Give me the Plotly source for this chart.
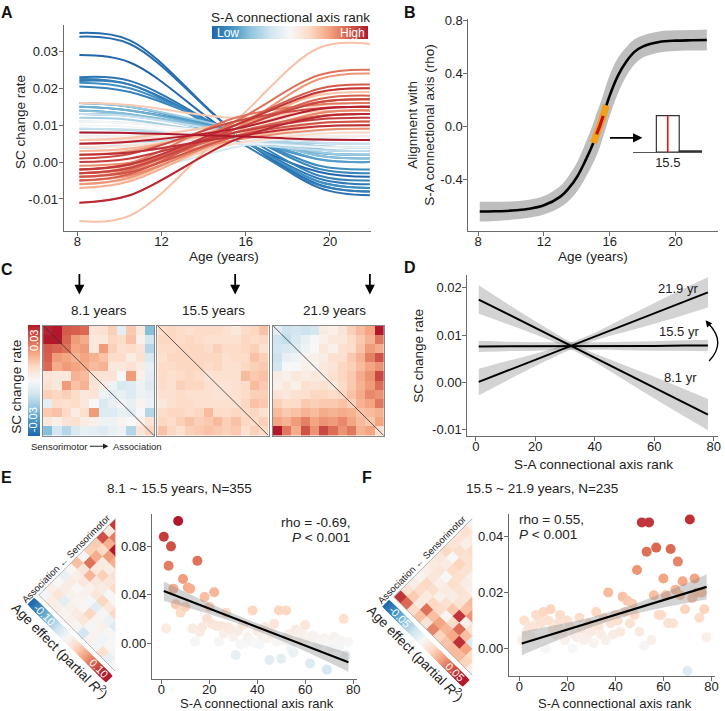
import numpy as np
import plotly.graph_objects as go
from plotly.colors import sample_colorscale

W, H = 725, 711
FONT = "Liberation Sans, Arial, sans-serif"
INK = "#222222"
AXC = "#6b6b6b"

# ---------------- data ----------------
# Panel A: SC change rate of each of 78 connections (ordered by S-A connectional axis rank) at fitted ages
sc_ages = [8.1, 10.5, 15.5, 19.5, 21.9]
sc_age8_1 = [0.029, 0.035, 0.034, 0.023, 0.022, 0.0225, 0.0205, 0.016, 0.015, 0.0215,
             0.014, 0.013, 0.016, 0.005, 0.004, 0.015, 0.004, 0.006, 0.014, 0.013,
             0.004, 0.016, 0.012, 0.009, 0.011, 0.008, 0.006, 0.009, 0.013, 0.007,
             -0.004, 0.007, 0.005, 0.004, 0.006, 0.007, 0.003, 0.005, 0.010, 0.011,
             0.004, 0.007, -0.002, 0.003, 0.000, 0.004, 0.002, 0.006, -0.004, 0.005,
             -0.006, 0.016, 0.006, -0.016, -0.003, 0.003, -0.007, -0.005, -0.011, 0.002,
             -0.006, -0.001, -0.005, -0.003, -0.002, -0.004, -0.003, -0.002, -0.005, -0.004,
             0.001, -0.003, 0.000, -0.002, 0.002, -0.011, 0.005, 0.008]
sc_age10_5 = [0.027, 0.033, 0.032, 0.022, 0.021, 0.021, 0.019, 0.015, 0.014, 0.020,
              0.013, 0.0125, 0.015, 0.0053, 0.0043, 0.014, 0.0044, 0.0061, 0.013, 0.0125,
              0.0042, 0.015, 0.0115, 0.0086, 0.0106, 0.0078, 0.006, 0.0088, 0.0124, 0.007,
              -0.003, 0.007, 0.005, 0.0042, 0.006, 0.007, 0.0032, 0.005, 0.0096, 0.0106,
              0.0042, 0.007, -0.0012, 0.0035, 0.0007, 0.0045, 0.0026, 0.0062, -0.003, 0.0055,
              -0.0046, 0.0155, 0.0066, -0.0145, -0.002, 0.0037, -0.0052, -0.0036, -0.009, 0.003,
              -0.0042, -0.0002, -0.0036, -0.0014, -0.0003, -0.0022, -0.0017, -0.0007, -0.0032, -0.0027,
              0.0022, -0.0016, 0.001, -0.0006, 0.0026, -0.009, 0.0055, 0.0079]
sc_age15_5 = [0.007, 0.008, 0.008, 0.007, 0.007, 0.006, 0.008, 0.008, 0.008, 0.007,
              0.007, 0.008, 0.008, 0.007, 0.006, 0.008, 0.007, 0.007, 0.008, 0.008,
              0.006, 0.009, 0.007, 0.006, 0.008, 0.006, 0.005, 0.007, 0.008, 0.006,
              0.004, 0.006, 0.006, 0.006, 0.007, 0.007, 0.005, 0.006, 0.007, 0.008,
              0.006, 0.008, 0.005, 0.007, 0.006, 0.008, 0.007, 0.008, 0.005, 0.009,
              0.006, 0.012, 0.011, 0.011, 0.006, 0.009, 0.008, 0.007, 0.006, 0.010,
              0.009, 0.006, 0.007, 0.010, 0.012, 0.011, 0.008, 0.009, 0.010, 0.007,
              0.011, 0.009, 0.008, 0.010, 0.007, 0.006, 0.009, 0.007]
sc_age19_5 = [-0.0027, -0.0061, -0.007, -0.0053, -0.0045, -0.0063, -0.0037, -0.0019, -0.001, -0.0054,
              0.0007, 0.0017, 0.0008, 0.0034, 0.0024, 0.0026, 0.0043, 0.0025, 0.0017, 0.0035,
              0.0042, 0.0027, 0.0043, 0.0051, 0.0062, 0.0042, 0.0032, 0.0061, 0.0053, 0.006,
              0.0085, 0.0069, 0.006, 0.0078, 0.007, 0.0097, 0.0041, 0.0078, 0.0115, 0.0098,
              0.0087, 0.0107, 0.0068, 0.0124, 0.0096, 0.0143, 0.0124, 0.0116, 0.0077, 0.0153,
              0.0096, 0.0138, 0.0182, 0.031, 0.0105, 0.0144, 0.0188, 0.0124, 0.0132, 0.0163,
              0.0225, 0.0087, 0.0133, 0.0163, 0.0156, 0.0236, 0.0125, 0.0171, 0.0199, 0.0106,
              0.0146, 0.0162, 0.0116, 0.019, 0.0097, 0.0123, 0.0144, 0.0061]
sc_age21_9 = [-0.004, -0.008, -0.009, -0.007, -0.006, -0.008, -0.005, -0.003, -0.002, -0.007,
              0.000, 0.001, 0.000, 0.003, 0.002, 0.002, 0.004, 0.002, 0.001, 0.003,
              0.004, 0.002, 0.004, 0.005, 0.006, 0.004, 0.003, 0.006, 0.005, 0.006,
              0.009, 0.007, 0.006, 0.008, 0.007, 0.010, 0.004, 0.008, 0.012, 0.010,
              0.009, 0.011, 0.007, 0.013, 0.010, 0.015, 0.013, 0.012, 0.008, 0.016,
              0.010, 0.014, 0.019, 0.032, 0.011, 0.015, 0.020, 0.013, 0.014, 0.017,
              0.024, 0.009, 0.014, 0.017, 0.016, 0.025, 0.013, 0.018, 0.021, 0.011,
              0.015, 0.017, 0.012, 0.020, 0.010, 0.013, 0.015, 0.006]
sa_rank = list(range(1, 79))

# Panel B: alignment with S-A connectional axis across age
b_age = [8.1, 9, 10, 11, 12, 13, 13.5, 14, 14.5, 15.0, 15.2, 15.4, 15.6, 15.8, 16.0,
         16.5, 17, 17.5, 18, 19, 20, 21, 21.9]
b_rho = [-0.645, -0.643, -0.638, -0.626, -0.598, -0.532, -0.47, -0.385, -0.265, -0.125,
         -0.06, 0.005, 0.08, 0.16, 0.235, 0.385, 0.49, 0.565, 0.605, 0.64, 0.65, 0.653, 0.655]
b_ci = [0.075, 0.073, 0.07, 0.068, 0.07, 0.08, 0.095, 0.11, 0.13, 0.15, 0.16, 0.16, 0.16,
        0.16, 0.155, 0.135, 0.11, 0.095, 0.085, 0.08, 0.078, 0.078, 0.08]
b_orange_age = [15.0, 15.2, 15.4, 15.6, 15.8]
b_red_age = [15.2, 15.4, 15.6]
# inset histogram of bootstrap ages at which alignment switches sign
hist_center = [15.5, 16.5]
hist_count = [1000, 30]
hist_median = 15.5

# Panel D: linear fits of SC change rate vs S-A rank at three ages
d_rank = [1, 10, 20, 30, 33, 40, 50, 60, 70, 78]
d_fit_8_1 = [0.0175, 0.01466, 0.0115, 0.00835, 0.0074, 0.00519, 0.00204, -0.00112, -0.00428, -0.0068]
d_ci_8_1 = [0.0030, 0.0022, 0.0014, 0.0008, 0.0007, 0.0009, 0.0016, 0.0023, 0.0029, 0.0033]
d_fit_15_5 = [0.0076, 0.0076, 0.0076, 0.0077, 0.0077, 0.0077, 0.0077, 0.0077, 0.0078, 0.0078]
d_ci_15_5 = [0.0012, 0.0010, 0.0009, 0.0008, 0.0008, 0.0008, 0.0009, 0.0010, 0.0011, 0.0012]
d_fit_21_9 = [0.0001, 0.00231, 0.00476, 0.00722, 0.00796, 0.00967, 0.01213, 0.01458, 0.01704, 0.019]
d_ci_21_9 = [0.0028, 0.0021, 0.0013, 0.0008, 0.0007, 0.0008, 0.0015, 0.0022, 0.0028, 0.0032]

# Panel E: age effect (partial R^2), 8.1 ~ 15.5 years
e_effect = [0.088, 0.012, 0.064, 0.080, 0.045, 0.032, 0.101, 0.025, 0.053, 0.030,
            0.046, 0.045, 0.012, 0.001, 0.068, 0.009, 0.013, 0.038, 0.020, 0.030,
            0.016, 0.042, 0.014, 0.001, 0.014, 0.008, 0.025, 0.013, 0.011, 0.005,
            -0.010, 0.010, -0.001, 0.015, 0.000, 0.005, 0.002, 0.027, 0.000, 0.010,
            -0.001, 0.006, 0.013, 0.004, -0.014, 0.008, 0.016, 0.001, 0.027, -0.013,
            0.002, 0.027, 0.007, -0.004, -0.008, 0.011, 0.009, 0.004, 0.007, 0.015,
            0.004, -0.017, 0.006, 0.005, -0.002, 0.002, 0.001, 0.004, -0.022, 0.000,
            -0.004, 0.005, 0.001, -0.003, 0.002, 0.020, -0.010, 0.001]
e_fit_rank = [1, 10, 20, 30, 40, 50, 60, 70, 78]
e_fit = [0.043, 0.0361, 0.0285, 0.0208, 0.0132, 0.0055, -0.0021, -0.0098, -0.016]
e_ci = [0.008, 0.0062, 0.0045, 0.0035, 0.0032, 0.0036, 0.0048, 0.0064, 0.0078]

# Panel F: age effect (partial R^2), 15.5 ~ 21.9 years
f_effect = [0.003, 0.010, 0.006, 0.008, 0.004, 0.008, 0.012, 0.011, 0.009, 0.013,
            0.000, 0.010, 0.014, 0.007, 0.005, 0.009, 0.012, 0.006, 0.003, 0.010,
            0.008, 0.000, 0.005, 0.004, 0.011, 0.007, 0.003, 0.004, 0.009, 0.006,
            0.002, 0.013, 0.008, 0.005, 0.011, 0.003, 0.020, 0.009, 0.005, 0.012,
            0.010, 0.006, 0.0185, 0.013, 0.017, 0.009, 0.016, 0.012, 0.028, 0.006,
            0.045, 0.001, 0.0345, 0.045, 0.003, 0.019, 0.036, 0.012, 0.012, 0.025,
            0.019, 0.009, 0.0355, 0.009, 0.021, 0.031, 0.019, 0.024, 0.014, -0.008,
            0.046, 0.018, 0.025, 0.020, 0.011, 0.020, 0.014, 0.004]
f_fit_rank = [1, 10, 20, 30, 40, 50, 60, 70, 78]
f_fit = [0.0018, 0.00416, 0.00678, 0.0094, 0.01202, 0.01464, 0.01726, 0.01988, 0.022]
f_ci = [0.0042, 0.0033, 0.0024, 0.0018, 0.0016, 0.0019, 0.0026, 0.0036, 0.0045]

# ---------------- helpers ----------------
RDBU = [[0.0, '#2166ac'], [0.125, '#4393c3'], [0.25, '#92c5de'], [0.375, '#d1e5f0'],
        [0.5, '#f7f7f7'], [0.625, '#fddbc7'], [0.75, '#f4a582'], [0.875, '#d6604d'],
        [1.0, '#b2182b']]


def dx(a, b):
    return [a / W, b / W]


def dy(top, bottom):
    return [1 - bottom / H, 1 - top / H]


def ann(x, y, text, size=13, color=INK, angle=0, xa='center', ya='middle',
        xref='paper', yref='paper'):
    if xref == 'paper':
        x = x / W
    if yref == 'paper':
        y = 1 - y / H
    return dict(x=x, y=y, xref=xref, yref=yref, text=text, showarrow=False,
                font=dict(size=size, color=color, family=FONT), textangle=angle,
                xanchor=xa, yanchor=ya)


def axis(dom, rng, anchor, tickvals=None, ticktext=None, **kw):
    d = dict(domain=dom, range=rng, anchor=anchor, showline=True, linecolor=AXC,
             linewidth=1.1, ticks='outside', ticklen=4, tickcolor=AXC, tickwidth=1.1,
             showgrid=False, zeroline=False, ticklabelstandoff=-2,
             tickfont=dict(size=13, color=INK, family=FONT))
    if tickvals is not None:
        d['tickvals'] = tickvals
        d['ticktext'] = ticktext
    d.update(kw)
    return d


def band(xs, mid, half, xa, ya, color):
    up = [m + h for m, h in zip(mid, half)]
    lo = [m - h for m, h in zip(mid, half)]
    return [go.Scatter(x=xs, y=up, mode='lines', line=dict(width=0, shape='spline'),
                       xaxis=xa, yaxis=ya, hoverinfo='skip'),
            go.Scatter(x=xs, y=lo, mode='lines', line=dict(width=0, shape='spline'),
                       fill='tonexty', fillcolor=color, xaxis=xa, yaxis=ya, hoverinfo='skip')]


# map upper-triangle cells of the 12x12 network matrix to their S-A rank
N = 12
cell_i, cell_j = [], []
for i in range(N):
    for j in range(i, N):
        cell_i.append(i)
        cell_j.append(j)
cell_i = np.array(cell_i)
cell_j = np.array(cell_j)
order = np.argsort((cell_i + 1) ** 2 + (cell_j + 1) ** 2, kind='stable')
cell_rank = np.empty(len(order), dtype=int)
cell_rank[order] = np.arange(len(order))


def to_matrix(vals):
    M = np.full((N, N), np.nan)
    for k in range(len(cell_i)):
        v = vals[cell_rank[k]]
        M[cell_i[k], cell_j[k]] = v
        M[cell_j[k], cell_i[k]] = v
    return M


fig = go.Figure()
anns = []
shapes = []

# ---------------- Panel A ----------------
line_cols = sample_colorscale(RDBU, [(r - 1) / 77 for r in sa_rank])
series = [sc_age8_1, sc_age10_5, sc_age15_5, sc_age19_5, sc_age21_9]
for k in range(78):
    fig.add_trace(go.Scatter(x=sc_ages, y=[s[k] for s in series], mode='lines',
                             line=dict(color=line_cols[k], width=2, shape='spline', smoothing=1.0),
                             xaxis='x', yaxis='y', hoverinfo='skip'))
fig.add_trace(go.Scatter(x=[None], y=[None], mode='markers',
                         marker=dict(color=[1], coloraxis='coloraxis'), xaxis='x', yaxis='y'))

# ---------------- Panel B ----------------
for t in band(b_age, b_rho, b_ci, 'x2', 'y2', '#bebebe'):
    fig.add_trace(t)
fig.add_trace(go.Scatter(x=b_age, y=b_rho, mode='lines', line=dict(color='black', width=2.6, shape='spline'),
                         xaxis='x2', yaxis='y2'))
o_idx = [b_age.index(a) for a in b_orange_age]
r_idx = [b_age.index(a) for a in b_red_age]
fig.add_trace(go.Scatter(x=b_orange_age, y=[b_rho[i] for i in o_idx], mode='lines',
                         line=dict(color='#f5a01a', width=7, shape='spline'), xaxis='x2', yaxis='y2'))
fig.add_trace(go.Scatter(x=b_red_age, y=[b_rho[i] for i in r_idx], mode='lines',
                         line=dict(color='#c1121f', width=3.2, shape='spline'), xaxis='x2', yaxis='y2'))
# inset histogram
fig.add_trace(go.Bar(x=hist_center, y=hist_count, width=1.0, marker=dict(color='white', line=dict(color='#333', width=1.2)),
                     xaxis='x3', yaxis='y3'))
fig.add_trace(go.Scatter(x=[hist_median, hist_median], y=[0, hist_count[0]], mode='lines',
                         line=dict(color='red', width=1.5), xaxis='x3', yaxis='y3'))

# ---------------- Panel C ----------------
mats = [to_matrix(sc_age8_1), to_matrix(sc_age15_5), to_matrix(sc_age21_9)]
for n, M in zip([4, 5, 6], mats):
    fig.add_trace(go.Heatmap(z=M, coloraxis='coloraxis2', xaxis='x%d' % n, yaxis='y%d' % n,
                             hoverinfo='skip'))
    fig.add_trace(go.Scatter(x=[-0.5, N - 0.5], y=[-0.5, N - 0.5], mode='lines',
                             line=dict(color='#333', width=0.8), xaxis='x%d' % n, yaxis='y%d' % n))

# ---------------- Panel D ----------------
for fit, ci in [(d_fit_8_1, d_ci_8_1), (d_fit_15_5, d_ci_15_5), (d_fit_21_9, d_ci_21_9)]:
    for t in band(d_rank, fit, ci, 'x7', 'y7', 'rgba(140,140,140,0.38)'):
        fig.add_trace(t)
for fit in [d_fit_8_1, d_fit_15_5, d_fit_21_9]:
    fig.add_trace(go.Scatter(x=d_rank, y=fit, mode='lines', line=dict(color='black', width=2),
                             xaxis='x7', yaxis='y7'))

# ---------------- Panels E & F ----------------
def scatter_panel(vals, fr, fv, fc, xa, ya, cax):
    fig.add_trace(go.Scatter(x=sa_rank, y=vals, mode='markers',
                             marker=dict(size=10, color=vals, coloraxis=cax, line=dict(width=0)),
                             xaxis=xa, yaxis=ya))
    for t in band(fr, fv, fc, xa, ya, 'rgba(140,140,140,0.38)'):
        fig.add_trace(t)
    fig.add_trace(go.Scatter(x=fr, y=fv, mode='lines', line=dict(color='black', width=2.2),
                             xaxis=xa, yaxis=ya))


scatter_panel(e_effect, e_fit_rank, e_fit, e_ci, 'x8', 'y8', 'coloraxis3')
scatter_panel(f_effect, f_fit_rank, f_fit, f_ci, 'x10', 'y10', 'coloraxis4')

# rotated triangle matrices
tri_x = [-(j - i) for i, j in zip(cell_i, cell_j)]
tri_y = [-(i + j + 1) for i, j in zip(cell_i, cell_j)]
nvec = np.array([-1.0, -1.0]) / np.sqrt(2)
Lv = np.array([-12.0, -12.0])
Bv = np.array([0.0, -24.0])


def triangle(vals, xa, ya, cax, cmax, u, lo_lab, hi_lab):
    cvals = [vals[cell_rank[k]] for k in range(len(cell_i))]
    fig.add_trace(go.Scatter(x=tri_x, y=tri_y, mode='markers',
                             marker=dict(symbol='diamond', size=2 * u / 1.3 + 0.5, color=cvals,
                                         coloraxis=cax, line=dict(width=0)),
                             xaxis=xa, yaxis=ya, hoverinfo='skip'))
    fig.add_trace(go.Scatter(x=[0, -12, 0], y=[0, -12, -24], mode='lines',
                             line=dict(color='#b5b5b5', width=1), xaxis=xa, yaxis=ya))
    off = 1.55
    tt = np.linspace(0.03, 0.97, 80)
    pts = Lv + off * nvec + np.outer(tt, Bv - Lv)
    ramp = np.linspace(-cmax, cmax, 80)
    fig.add_trace(go.Scatter(x=pts[:, 0], y=pts[:, 1], mode='markers',
                             marker=dict(symbol='diamond', size=1.45 * u / 0.919, color=ramp,
                                         coloraxis=cax, line=dict(width=0)),
                             xaxis=xa, yaxis=ya, hoverinfo='skip'))
    p_lo = Lv + off * nvec + 0.17 * (Bv - Lv)
    p_hi = Lv + off * nvec + 0.87 * (Bv - Lv)
    anns.append(ann(p_lo[0], p_lo[1], lo_lab, size=11, color='white', angle=45, xref=xa, yref=ya))
    anns.append(ann(p_hi[0], p_hi[1], hi_lab, size=11, color='white', angle=45, xref=xa, yref=ya))
    mid = (Lv + Bv) / 2 + 3.75 * nvec
    anns.append(ann(mid[0], mid[1], 'Age effect (partial <i>R</i><sup>2</sup>)', size=13.5,
                    angle=45, xref=xa, yref=ya))
    anns.append(ann(-7.7, -6.3, 'Association \u2190 Sensorimotor', size=9.5, angle=-45,
                    xref=xa, yref=ya))


uE = 154 / 24
uF = 158 / 24
triangle(e_effect, 'x9', 'y9', 'coloraxis3', 0.10, uE, '-0.10', '0.10')
triangle(f_effect, 'x11', 'y11', 'coloraxis4', 0.05, uF, '-0.05', '0.05')

# ---------------- layout ----------------
lay = dict(
    width=W, height=H, margin=dict(l=0, r=0, t=0, b=0),
    paper_bgcolor='white', plot_bgcolor='white', showlegend=False,
    font=dict(family=FONT, color=INK),
    coloraxis=dict(colorscale=RDBU, cmin=1, cmax=78,
                   colorbar=dict(orientation='h', x=213.5 / W, xanchor='left', y=1 - 21.5 / H,
                                 yanchor='top', len=157 / W, thickness=12.5, showticklabels=False,
                                 ticks='', outlinewidth=0, xpad=0, ypad=0)),
    coloraxis2=dict(colorscale=RDBU, cmin=-0.03, cmax=0.03,
                    colorbar=dict(x=28 / W, xanchor='left', y=1 - 323 / H, yanchor='top',
                                  len=112 / H, thickness=11.5, showticklabels=False, ticks='',
                                  outlinewidth=0, xpad=0, ypad=0)),
    coloraxis3=dict(colorscale=RDBU, cmin=-0.10, cmax=0.10, showscale=False),
    coloraxis4=dict(colorscale=RDBU, cmin=-0.05, cmax=0.05, showscale=False),
)

XSTAND = -6
# A
lay['xaxis'] = axis(dx(64, 373), [7.353, 21.95], 'y', [8, 12, 16, 20], ['8', '12', '16', '20'],
                    ticklabelstandoff=XSTAND)
lay['yaxis'] = axis(dy(20, 228), [-0.0187, 0.0372], 'x', [-0.01, 0.0, 0.01, 0.02, 0.03],
                    ['-0.01', '0.00', '0.01', '0.02', '0.03'])
# B
lay['xaxis2'] = axis(dx(471, 722), [7.41, 22.58], 'y2', [8, 12, 16, 20], ['8', '12', '16', '20'],
                     ticklabelstandoff=XSTAND)
lay['yaxis2'] = axis(dy(14, 228), [-0.793, 0.815], 'x2', [-0.4, 0.0, 0.4, 0.8],
                     ['-0.4', '0.0', '0.4', '0.8'])
# B inset
lay['xaxis3'] = axis(dx(637, 706), [14.0, 17.0], 'y3', [15.5], ['15.5'], ticks='', linecolor='#555',
                     linewidth=1.2)
lay['yaxis3'] = dict(domain=dy(108, 148.3), range=[0, 1100], anchor='x3', visible=False)
# C heatmaps
for n, (a, b) in zip([4, 5, 6], [(43.3, 155), (158.3, 270), (274.3, 386)]):
    lay['xaxis%d' % n] = dict(domain=dx(a, b), range=[-0.5, N - 0.5], anchor='y%d' % n,
                              showline=True, mirror=True, linecolor='#8a8a8a', linewidth=1,
                              showticklabels=False, ticks='', showgrid=False, zeroline=False)
    lay['yaxis%d' % n] = dict(domain=dy(323.3, 434.3), range=[N - 0.5, -0.5], anchor='x%d' % n,
                              showline=True, mirror=True, linecolor='#8a8a8a', linewidth=1,
                              showticklabels=False, ticks='', showgrid=False, zeroline=False)
# D
lay['xaxis7'] = axis(dx(470, 722), [-2.8, 81.4], 'y7', [0, 20, 40, 60, 80], ['0', '20', '40', '60', '80'],
                     ticklabelstandoff=XSTAND)
lay['yaxis7'] = axis(dy(272.7, 435), [-0.0114, 0.0226], 'x7', [-0.01, 0.0, 0.01, 0.02],
                     ['-0.01', '0.00', '0.01', '0.02'])
# E
lay['xaxis8'] = axis(dx(152.7, 359.3), [-3.98, 81.7], 'y8', [0, 20, 40, 60, 80], ['0', '20', '40', '60', '80'],
                     ticklabelstandoff=XSTAND)
lay['yaxis8'] = axis(dy(513.3, 680), [-0.030, 0.1068], 'x8', [0.0, 0.04, 0.08], ['0.00', '0.04', '0.08'])
# F
lay['xaxis10'] = axis(dx(511.7, 719), [-4.39, 81.5], 'y10', [0, 20, 40, 60, 80], ['0', '20', '40', '60', '80'],
                      ticklabelstandoff=XSTAND)
lay['yaxis10'] = axis(dy(513.3, 676.7), [-0.0098, 0.048], 'x10', [0.0, 0.02, 0.04], ['0.00', '0.02', '0.04'])
# triangles
lay['xaxis9'] = dict(domain=dx(116 - 15.5 * uE, 116), range=[-15.5, 0], anchor='y9', visible=False)
lay['yaxis9'] = dict(domain=dy(518 - 0.5 * uE, 518 + 27.5 * uE), range=[-27.5, 0.5], anchor='x9', visible=False)
lay['xaxis11'] = dict(domain=dx(475 - 15.5 * uF, 475), range=[-15.5, 0], anchor='y11', visible=False)
lay['yaxis11'] = dict(domain=dy(518 - 0.5 * uF, 518 + 27.5 * uF), range=[-27.5, 0.5], anchor='x11', visible=False)

# ---------------- annotations ----------------
for lab, x, y in [('A', 7, 8), ('B', 412, 8), ('C', 7, 267), ('D', 412, 265), ('E', 7, 477), ('F', 369, 477)]:
    anns.append(ann(x, y, '<b>%s</b>' % lab, size=16, color='#111'))
anns.append(ann(20, 118, 'SC change rate', size=13.5, angle=-90))
anns.append(ann(225, 254, 'Age (years)', size=13.5))
anns.append(ann(292, 13, 'S-A connectional axis rank', size=13.5))
anns.append(ann(216, 28, 'Low', size=12, color='white', xa='left'))
anns.append(ann(369, 28, 'High', size=12, color='white', xa='right'))
anns.append(ann(424, 121, 'Alignment with<br>S-A connectional axis (rho)', size=13.5, angle=-90))
anns.append(ann(596, 254, 'Age (years)', size=13.5))
anns.append(dict(x=646 / W, y=1 - 134 / H, xref='paper', yref='paper', text='', showarrow=True,
                 ax=-34, ay=0, arrowhead=2, arrowsize=1.1, arrowwidth=1.7, arrowcolor='black'))
# C
for age in [8.1, 15.5, 21.9]:
    anns.append(dict(x=age, y=1 - 292 / H, xref='x', yref='paper', text='', showarrow=True,
                     ax=0, ay=-22, arrowhead=2, arrowsize=1.1, arrowwidth=1.8, arrowcolor='black'))
for t, x in [('8.1 years', 100), ('15.5 years', 215), ('21.9 years', 336)]:
    anns.append(ann(x, 308, t, size=13.5))
anns.append(ann(17, 385, 'SC change rate', size=13.5, angle=-90))
anns.append(ann(34, 338, '0.03', size=11, color='white', angle=-90))
anns.append(ann(34, 418, '-0.03', size=11, color='white', angle=-90))
anns.append(ann(29, 445, 'Sensorimotor', size=9.5, xa='left'))
anns.append(ann(112, 445, 'Association', size=9.5, xa='left'))
anns.append(dict(x=109 / W, y=1 - 445 / H, xref='paper', yref='paper', text='', showarrow=True,
                 ax=-20, ay=0, arrowhead=2, arrowsize=0.9, arrowwidth=1.2, arrowcolor='#222'))
# D
anns.append(ann(420, 354, 'SC change rate', size=13.5, angle=-90))
anns.append(ann(597, 463, 'S-A connectional axis rank', size=13.5))
anns.append(ann(68, 0.0199, '21.9 yr', size=13, xref='x7', yref='y7'))
anns.append(ann(68.4, 0.01066, '15.5 yr', size=13, xref='x7', yref='y7'))
anns.append(ann(68.7, 0.0011, '8.1 yr', size=13, xref='x7', yref='y7'))
shapes.append(dict(type='path', xref='paper', yref='paper',
                   path='M %f,%f Q %f,%f %f,%f' % (713 / W, 1 - 359 / H, 731 / W, 1 - 340 / H, 712 / W, 1 - 321 / H),
                   line=dict(color='black', width=1.3)))
anns.append(dict(x=709.5 / W, y=1 - 318 / H, xref='paper', yref='paper', text='', showarrow=True,
                 ax=4, ay=5, arrowhead=2, arrowsize=1.0, arrowwidth=1.3, arrowcolor='black'))
# E / F
anns.append(ann(180, 488, '8.1 ~ 15.5 years, N=355', size=13.5))
anns.append(ann(545, 488, '15.5 ~ 21.9 years, N=235', size=13.5))
anns.append(ann(354, 522, 'rho = -0.69,', size=13.5, xa='right'))
anns.append(ann(354, 537, '<i>P</i> < 0.001', size=13.5, xa='right'))
anns.append(ann(520, 519, 'rho = 0.55,', size=13.5, xa='left'))
anns.append(ann(520, 534, '<i>P</i> < 0.001', size=13.5, xa='left'))
anns.append(ann(258, 704, 'S-A connectional axis rank', size=13))
anns.append(ann(618, 704, 'S-A connectional axis rank', size=13))

lay['annotations'] = anns
lay['shapes'] = shapes
fig.update_layout(**lay)
fig.write_html("out.html", config={'displayModeBar': False},
               post_script="document.body.style.margin='0px';document.body.style.padding='0px';")
